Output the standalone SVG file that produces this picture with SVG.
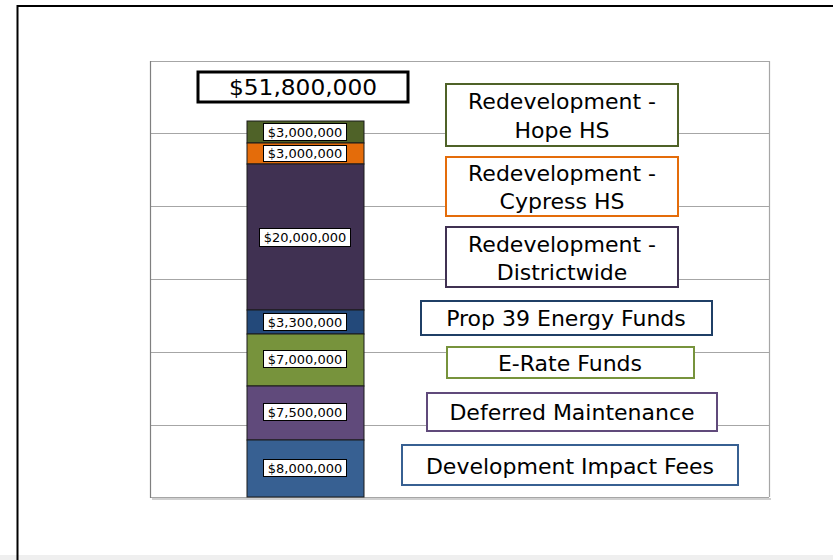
<svg xmlns="http://www.w3.org/2000/svg" width="833" height="560" viewBox="0 0 833 560">
<style>
.grid{stroke:#a6a6a6;stroke-width:1.2;fill:none}
.seg{stroke:#1a1a1a;stroke-width:1}
.lbl{fill:#fff;stroke:#000;stroke-width:1}
.lt{font-family:"DejaVu Sans",sans-serif;font-size:13px;fill:#000;text-anchor:middle}
.leg{fill:#fff;stroke-width:2}
.legt{font-family:"DejaVu Sans",sans-serif;font-size:22px;fill:#000;text-anchor:middle}
</style>
<rect x="0" y="0" width="833" height="560" fill="#fff"/>
<rect x="0" y="555" width="833" height="5" fill="#efefef"/>
<path d="M17.5,560 V6 H833" fill="none" stroke="#000" stroke-width="2"/>
<g id="plot">
<rect x="152" y="498" width="619" height="2" fill="#d0d0d0"/>
<path d="M150,61.5 H769.5 V497" class="grid" stroke="#bfbfbf"/>
<g class="grid">
<path d="M150,133.5 H769"/>
<path d="M150,206.5 H769"/>
<path d="M150,279.5 H769"/>
<path d="M150,352.5 H769"/>
<path d="M150,425.5 H769"/>
<path d="M150,497.5 H769"/>
</g>
<path d="M150.5,61 V498" stroke="#7f7f7f" stroke-width="1.2"/>
</g>
<g id="total">
<rect x="198" y="72" width="210" height="30" fill="#fff" stroke="#000" stroke-width="3"/>
<text x="303" y="95" font-family="DejaVu Sans, sans-serif" font-size="22" text-anchor="middle" textLength="148" lengthAdjust="spacingAndGlyphs">$51,800,000</text>
</g>
<g id="bar">
<g id="seg-hope"><rect class="seg" x="247" y="121" width="117" height="22" fill="#4f6228"/><rect class="lbl" x="263.5" y="123.5" width="83" height="17"/><text class="lt" x="305" y="137">$3,000,000</text></g>
<g id="seg-cypress"><rect class="seg" x="247" y="143" width="117" height="21" fill="#e46c0a"/><rect class="lbl" x="263.5" y="145.5" width="83" height="16"/><text class="lt" x="305" y="158">$3,000,000</text></g>
<g id="seg-district"><rect class="seg" x="247" y="164" width="117" height="146" fill="#403152"/><rect class="lbl" x="259.5" y="228.5" width="91" height="18"/><text class="lt" x="305" y="242">$20,000,000</text></g>
<g id="seg-prop39"><rect class="seg" x="247" y="310" width="117" height="24" fill="#23497a"/><rect class="lbl" x="263.5" y="313.5" width="83" height="17"/><text class="lt" x="305" y="327">$3,300,000</text></g>
<g id="seg-erate"><rect class="seg" x="247" y="334" width="117" height="52" fill="#77933c"/><rect class="lbl" x="263.5" y="350.5" width="83" height="17"/><text class="lt" x="305" y="364">$7,000,000</text></g>
<g id="seg-deferred"><rect class="seg" x="247" y="386" width="117" height="54" fill="#604a7b"/><rect class="lbl" x="263.5" y="403.5" width="83" height="17"/><text class="lt" x="305" y="417">$7,500,000</text></g>
<g id="seg-impact"><rect class="seg" x="247" y="440" width="117" height="57" fill="#376092"/><rect class="lbl" x="263.5" y="459.5" width="83" height="17"/><text class="lt" x="305" y="473">$8,000,000</text></g>
</g>
<g id="leg-hope"><rect class="leg" x="446" y="84" width="232" height="62" stroke="#4f6228"/><text class="legt" x="562" y="109">Redevelopment -</text><text class="legt" x="562" y="138">Hope HS</text></g>
<g id="leg-cypress"><rect class="leg" x="446" y="157" width="232" height="59" stroke="#e46c0a"/><text class="legt" x="562" y="181">Redevelopment -</text><text class="legt" x="562" y="209">Cypress HS</text></g>
<g id="leg-district"><rect class="leg" x="446" y="227" width="232" height="60" stroke="#403152"/><text class="legt" x="562" y="252">Redevelopment -</text><text class="legt" x="562" y="280">Districtwide</text></g>
<g id="leg-prop39"><rect class="leg" x="421" y="301" width="291" height="34" stroke="#1f3f66"/><text class="legt" x="566" y="326">Prop 39 Energy Funds</text></g>
<g id="leg-erate"><rect class="leg" x="447" y="347" width="247" height="31" stroke="#77933c"/><text class="legt" x="570" y="371">E-Rate Funds</text></g>
<g id="leg-deferred"><rect class="leg" x="427" y="393" width="290" height="38" stroke="#604a7b"/><text class="legt" x="572" y="420">Deferred Maintenance</text></g>
<g id="leg-impact"><rect class="leg" x="402" y="445" width="336" height="40" stroke="#376092"/><text class="legt" x="570" y="474">Development Impact Fees</text></g>
</svg>
